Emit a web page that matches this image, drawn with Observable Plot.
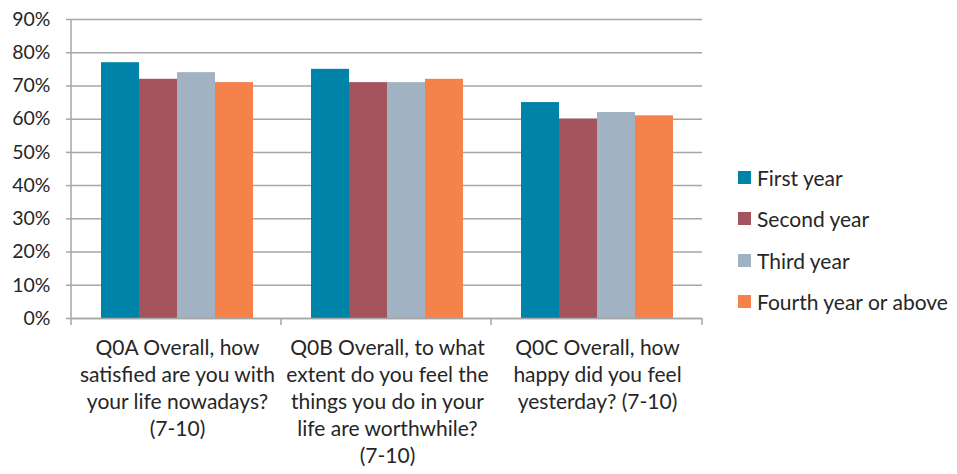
<!DOCTYPE html>
<html>
<head>
<meta charset="utf-8">
<script src="https://cdn.jsdelivr.net/npm/d3@7"></script>
<script src="https://cdn.jsdelivr.net/npm/@observablehq/plot@0.6"></script>
<style>
  body { margin: 0; background: #fff; }
  #chart { position: relative; width: 957px; height: 474px; font-family: Lato, "Open Sans", sans-serif; color: #262626; }
  #chart svg { position: absolute; left: 0; top: 0; }
  .legend { position: absolute; left: 738px; top: 157px; font-size: 21px; }
  .legend .row { height: 41.3px; display: flex; align-items: center; white-space: nowrap; }
  .legend .sw { width: 13px; height: 13px; margin-right: 6px; flex: none; }
</style>
</head>
<body>
<div id="chart"></div>
<script>
// Survey questions (category labels, line breaks as shown under the axis)
const questions = [
  "Q0A Overall, how\nsatisfied are you with\nyour life nowadays?\n(7-10)",
  "Q0B Overall, to what\nextent do you feel the\nthings you do in your\nlife are worthwhile?\n(7-10)",
  "Q0C Overall, how\nhappy did you feel\nyesterday? (7-10)"
];
// Year groups (series)
const years = ["First year", "Second year", "Third year", "Fourth year or above"];
// Share answering 7-10, one value per question
const firstYear  = [0.77, 0.75, 0.65];
const secondYear = [0.72, 0.71, 0.60];
const thirdYear  = [0.74, 0.71, 0.62];
const fourthYear = [0.71, 0.72, 0.61];
const yearColors = ["#0083a8", "#a5545e", "#a1b3c3", "#f5814b"];
// Value axis ticks
const yTicks = [0, 0.1, 0.2, 0.3, 0.4, 0.5, 0.6, 0.7, 0.8, 0.9];

const seriesValues = [firstYear, secondYear, thirdYear, fourthYear];
const rows = questions.flatMap((q, i) =>
  seriesValues.map((s, j) => ({question: q, year: years[j], value: s[i]}))
);

const axisGray = "#a6a6a6";

const plot = Plot.plot({
  width: 957,
  height: 474,
  marginLeft: 71,
  marginRight: 255,
  marginTop: 19,
  marginBottom: 156,
  style: {fontFamily: "Lato, 'Open Sans', sans-serif", fontSize: "19px", color: "#262626", background: "transparent", overflow: "visible"},
  fx: {domain: questions, padding: 0, label: null},
  x: {domain: years, paddingInner: 0, paddingOuter: 0.74, axis: null},
  y: {domain: [0, 0.9], label: null},
  color: {domain: years, range: yearColors},
  marks: [
    Plot.gridY(yTicks, {stroke: axisGray, strokeOpacity: 1, strokeWidth: 1.5}),
    Plot.barY(rows, {fx: "question", x: "year", y: "value", fill: "year"}),
    Plot.ruleY([0], {stroke: axisGray, strokeWidth: 1.5}),
    Plot.axisY(yTicks, {tickFormat: d3.format(".0%"), tickSize: 6, tickPadding: 16, stroke: axisGray, strokeWidth: 1.5, label: null, fontSize: 19.5}),
    Plot.axisFx({anchor: "bottom", tickSize: 0, tickPadding: 17, lineHeight: 27 / 21, label: null, fontSize: 21})
  ]
});

const chart = document.getElementById("chart");
chart.appendChild(plot);

// Axis line on the left and category boundary ticks along the bottom
const fx = plot.scale("fx");
const y = plot.scale("y");
const y0 = y.apply(0), yTop = y.apply(0.9);
const bounds = fx.domain.map((d, i) => fx.range[0] + i * fx.step).concat([fx.range[1]]);
const svg = d3.select(plot);
const g = svg.append("g").attr("stroke", axisGray).attr("stroke-width", 1.5);
g.append("line").attr("x1", bounds[0]).attr("x2", bounds[0]).attr("y1", yTop).attr("y2", y0 + 7);
bounds.slice(1).forEach(b => g.append("line").attr("x1", b).attr("x2", b).attr("y1", y0).attr("y2", y0 + 7));

// Legend
const color = plot.scale("color");
const legend = d3.select(chart).append("div").attr("class", "legend");
const item = legend.selectAll(".row").data(color.domain).join("div").attr("class", "row");
item.append("span").attr("class", "sw").style("background", d => color.apply(d));
item.append("span").text(d => d);
</script>
</body>
</html>
